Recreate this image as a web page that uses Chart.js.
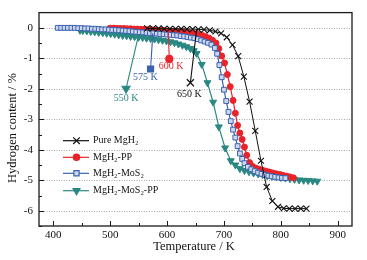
<!DOCTYPE html>
<html>
<head>
<meta charset="utf-8">
<script src="https://cdn.jsdelivr.net/npm/chart.js@4"></script>
<style>
  body { margin: 0; background: #fff; }
  #wrap { width: 367px; height: 260px; }
</style>
</head>
<body>
<div id="wrap"><canvas id="h2canvas" width="367" height="260"></canvas></div>
<script>
// Pure MgH2
let tempPure = [565,575,585,595,605,615,625,635,645,655,665,675,685,695,705,715,725,735,745,755,765,775,785,795,805,815,825,835,845];
let hPure = [-0.02,-0.02,-0.02,-0.03,-0.03,-0.03,-0.03,-0.04,-0.04,-0.05,-0.06,-0.08,-0.12,-0.18,-0.31,-0.56,-0.93,-1.6,-2.42,-3.38,-4.36,-5.22,-5.68,-5.87,-5.92,-5.93,-5.93,-5.93,-5.93];

// MgH2-PP
let tempPP = [500,506,512,518,524,530,536,542,548,554,560,566,572,578,584,590,596,602,608,614,620,626,632,638,644,650,656,662,668,674,680,686,691,696,701,706,711,716,720,724,728,732,736,740,745,750,756,762,768,774,780,786,792,798,804,810,816,822];
let hPP = [-0.01,-0.01,-0.02,-0.02,-0.02,-0.03,-0.03,-0.04,-0.04,-0.05,-0.05,-0.06,-0.06,-0.07,-0.08,-0.08,-0.09,-0.1,-0.11,-0.12,-0.13,-0.14,-0.15,-0.16,-0.18,-0.2,-0.22,-0.25,-0.29,-0.34,-0.41,-0.5,-0.68,-0.92,-1.15,-1.53,-1.93,-2.38,-2.8,-3.2,-3.45,-3.66,-3.91,-4.18,-4.42,-4.54,-4.6,-4.64,-4.67,-4.7,-4.73,-4.76,-4.79,-4.81,-4.84,-4.86,-4.89,-4.92];

// MgH2-MoS2
let tempMoS2 = [408,414,420,426,432,438,444,450,456,462,468,474,480,486,492,498,504,510,516,522,528,534,540,546,552,558,564,570,576,582,588,594,600,606,612,618,624,630,636,642,648,654,660,666,672,678,684,688,692,696,700,704,708,712,716,720,724,728,732,736,742,748,754,760,766,772,778,784,790,796,802,808];
let hMoS2 = [0,0,0,0,0,0,-0.01,-0.01,-0.02,-0.02,-0.03,-0.03,-0.04,-0.05,-0.05,-0.06,-0.07,-0.07,-0.08,-0.09,-0.1,-0.11,-0.12,-0.13,-0.14,-0.15,-0.16,-0.17,-0.18,-0.19,-0.2,-0.21,-0.22,-0.23,-0.24,-0.25,-0.27,-0.28,-0.3,-0.32,-0.34,-0.37,-0.41,-0.45,-0.49,-0.55,-0.66,-0.85,-1.22,-1.62,-2.03,-2.4,-2.76,-3.06,-3.34,-3.6,-3.88,-4.12,-4.3,-4.44,-4.56,-4.64,-4.7,-4.75,-4.79,-4.82,-4.85,-4.87,-4.89,-4.91,-4.92,-4.93];

// MgH2-MoS2-PP
let tempMoS2PP = [447,452,459,466,473,480,487,494,501,508,515,522,529,536,543,550,557,564,571,578,585,592,599,606,613,620,627,634,641,647,652,661,671,681,691,702,712,720,728,736,744,752,760,768,776,784,792,800,808,816,824,832,840,848,856,864];
let hMoS2PP = [-0.08,-0.09,-0.1,-0.12,-0.13,-0.15,-0.16,-0.18,-0.19,-0.21,-0.23,-0.25,-0.26,-0.28,-0.29,-0.31,-0.32,-0.34,-0.35,-0.37,-0.39,-0.41,-0.43,-0.46,-0.49,-0.53,-0.57,-0.62,-0.68,-0.75,-0.84,-1.2,-1.8,-2.44,-3.25,-3.94,-4.36,-4.5,-4.62,-4.68,-4.72,-4.76,-4.79,-4.82,-4.85,-4.87,-4.89,-4.91,-4.93,-4.95,-4.97,-4.99,-5.0,-5.01,-5.02,-5.03];

// tick labels
let xTicks = [400, 500, 600, 700, 800, 900];
let yTicks = [0, -1, -2, -3, -4, -5, -6];

// onset labels (arrow from curve to marker)
let onsetLabels = ['550 K', '575 K', '600 K', '650 K'];
let onsetFromT = [549, 575, 602, 652];
let onsetFromH = [-0.31, -0.18, -0.1, -0.05];
let onsetToT = [528, 571, 604, 641];
let onsetToH = [-1.99, -1.35, -1.02, -1.8];
let onsetTextT = [528, 562, 607, 639];
let onsetTextH = [-2.3, -1.64, -1.28, -2.19];

let seriesNames = ['Pure MgH\u2082', 'MgH\u2082-PP', 'MgH\u2082-MoS\u2082', 'MgH\u2082-MoS\u2082-PP'];

let xTitle = 'Temperature / K';
let yTitle = 'Hydrogen content / %';

const BLACK = '#111111';
const RED = '#e8232a';
const BLUE = '#3b62ae';
const TEAL = '#2a8883';
const FONT = '"Liberation Serif", "DejaVu Serif", serif';

function toPoints(xs, ys) {
    return xs.map(function(x, i) { return { x: x, y: ys[i] }; });
}

// marker drawing used for legend and onset arrows
function drawMarker(ctx, kind, x, y, size, color, fill) {
    ctx.save();
    ctx.strokeStyle = color;
    ctx.fillStyle = fill;
    ctx.lineWidth = 1.2;
    ctx.beginPath();
    if (kind === 'cross') {
        ctx.moveTo(x - size, y - size); ctx.lineTo(x + size, y + size);
        ctx.moveTo(x + size, y - size); ctx.lineTo(x - size, y + size);
        ctx.stroke();
    } else if (kind === 'circle') {
        ctx.arc(x, y, size, 0, Math.PI * 2);
        ctx.fill(); ctx.stroke();
    } else if (kind === 'rect') {
        ctx.rect(x - size, y - size, size * 2, size * 2);
        ctx.fill(); ctx.stroke();
    } else if (kind === 'tri') {
        ctx.moveTo(x - size * 0.87, y - size * 0.5);
        ctx.lineTo(x + size * 0.87, y - size * 0.5);
        ctx.lineTo(x, y + size);
        ctx.closePath();
        ctx.fill(); ctx.stroke();
    }
    ctx.restore();
}

const decorPlugin = {
    id: 'decor',
    beforeDatasetsDraw(chart) {
        const ctx = chart.ctx;
        const a = chart.chartArea;
        const ys = chart.scales.y;
        ctx.save();
        ctx.strokeStyle = '#a8a8a8';
        ctx.lineWidth = 1;
        ctx.setLineDash([1, 1.5]);
        yTicks.forEach(function(v) {
            const py = Math.round(ys.getPixelForValue(v)) + 0.5;
            ctx.beginPath();
            ctx.moveTo(a.left, py);
            ctx.lineTo(a.right, py);
            ctx.stroke();
        });
        ctx.restore();
    },
    afterDatasetsDraw(chart) {
        const ctx = chart.ctx;
        const a = chart.chartArea;
        const xs = chart.scales.x;
        const ys = chart.scales.y;
        ctx.save();

        // frame
        ctx.strokeStyle = '#1a1a1a';
        ctx.lineWidth = 1.3;
        ctx.strokeRect(a.left, a.top, a.right - a.left, a.bottom - a.top);

        // inward ticks, major and minor
        ctx.lineWidth = 1;
        ctx.beginPath();
        xTicks.forEach(function(t) {
            [t, t + 50].forEach(function(v, j) {
                if (v > 900) return;
                const px = Math.round(xs.getPixelForValue(v)) + 0.5;
                ctx.moveTo(px, a.bottom);
                ctx.lineTo(px, a.bottom - (j === 0 ? 5 : 3));
            });
        });
        yTicks.forEach(function(t) {
            [t, t - 0.5].forEach(function(v, j) {
                const py = Math.round(ys.getPixelForValue(v)) + 0.5;
                ctx.moveTo(a.left, py);
                ctx.lineTo(a.left + (j === 0 ? 5 : 3), py);
            });
        });
        ctx.stroke();

        // onset arrows
        const colors = [TEAL, BLUE, RED, BLACK];
        const kinds = ['tri', 'rect', 'circle', 'cross'];
        const sizes = [4.5, 3, 3.5, 3.5];
        ctx.font = '10px ' + FONT;
        ctx.textAlign = 'center';
        ctx.textBaseline = 'middle';
        for (let i = 0; i < onsetLabels.length; i++) {
            const x0 = xs.getPixelForValue(onsetFromT[i]);
            const y0 = ys.getPixelForValue(onsetFromH[i]);
            const x1 = xs.getPixelForValue(onsetToT[i]);
            const y1 = ys.getPixelForValue(onsetToH[i]);
            ctx.strokeStyle = colors[i];
            ctx.lineWidth = 1.1;
            ctx.beginPath();
            ctx.moveTo(x0, y0);
            ctx.lineTo(x1, y1);
            ctx.stroke();
            drawMarker(ctx, kinds[i], x1, y1, sizes[i], colors[i], colors[i]);
            ctx.fillStyle = colors[i];
            ctx.fillText(onsetLabels[i], xs.getPixelForValue(onsetTextT[i]), ys.getPixelForValue(onsetTextH[i]));
        }

        // legend
        const legY = [140.7, 157.3, 173.3, 190.7];
        const legColors = [BLACK, RED, BLUE, TEAL];
        const legKinds = ['cross', 'circle', 'rect', 'tri'];
        const legFill = [BLACK, RED, '#cdd8ee', TEAL];
        const legSize = [3.3, 3.2, 2.6, 4];
        ctx.textAlign = 'left';
        for (let i = 0; i < seriesNames.length; i++) {
            ctx.strokeStyle = legColors[i];
            ctx.lineWidth = 1.2;
            ctx.beginPath();
            ctx.moveTo(63, legY[i]);
            ctx.lineTo(89, legY[i]);
            ctx.stroke();
            drawMarker(ctx, legKinds[i], 76.5, legY[i], legSize[i], legColors[i], legFill[i]);
            ctx.fillStyle = BLACK;
            ctx.fillText(seriesNames[i], 93, legY[i]);
        }

        // axis titles
        ctx.fillStyle = BLACK;
        ctx.font = '12.5px ' + FONT;
        ctx.textAlign = 'center';
        ctx.fillText(xTitle, 194, 247);
        ctx.translate(13, 128);
        ctx.rotate(-Math.PI / 2);
        ctx.fillText(yTitle, 0, 0);
        ctx.restore();
    }
};

function setTicks(values) {
    return function(scale) {
        scale.ticks = values.map(function(v) { return { value: v }; });
    };
}

let ctx = document.getElementById('h2canvas').getContext('2d');
let h2Chart = new Chart(ctx, {
    type: 'line',
    data: {
        datasets: [
            {
                label: seriesNames[0],
                data: toPoints(tempPure, hPure),
                borderColor: BLACK, backgroundColor: BLACK, borderWidth: 1,
                pointStyle: 'crossRot', pointRadius: 4.2, pointBorderWidth: 1.1,
                order: 0
            },
            {
                label: seriesNames[1],
                data: toPoints(tempPP, hPP),
                borderColor: RED, backgroundColor: RED, borderWidth: 1.2,
                pointStyle: 'circle', pointRadius: 3, pointBorderWidth: 1,
                order: 2
            },
            {
                label: seriesNames[2],
                data: toPoints(tempMoS2, hMoS2),
                borderColor: BLUE, backgroundColor: '#cdd8ee', borderWidth: 1.2,
                pointStyle: 'rect', pointRadius: 3.4, pointBorderWidth: 1,
                order: 1
            },
            {
                label: seriesNames[3],
                data: toPoints(tempMoS2PP, hMoS2PP),
                borderColor: TEAL, backgroundColor: TEAL, borderWidth: 1.2,
                pointStyle: 'triangle', pointRotation: 180, pointRadius: 4, pointBorderWidth: 1,
                order: 3
            }
        ]
    },
    options: {
        responsive: false,
        animation: false,
        devicePixelRatio: 1,
        layout: { padding: { top: 8, right: 15, left: 0, bottom: 0 } },
        plugins: { legend: { display: false }, tooltip: { enabled: false } },
        elements: { line: { tension: 0 } },
        scales: {
            x: {
                type: 'linear', min: 375, max: 925,
                afterBuildTicks: setTicks(xTicks),
                afterFit: function(scale) { scale.height = 34; },
                ticks: { padding: 3, maxRotation: 0, autoSkip: false,
                         color: BLACK, font: { family: FONT, size: 11 } },
                grid: { display: false, drawTicks: false },
                border: { display: false }
            },
            y: {
                type: 'linear', min: -6.5, max: 0.5,
                afterBuildTicks: setTicks(yTicks),
                afterFit: function(scale) { scale.width = 39; },
                ticks: { padding: 6, autoSkip: false,
                         color: BLACK, font: { family: FONT, size: 11 } },
                grid: { display: false, drawTicks: false },
                border: { display: false }
            }
        }
    },
    plugins: [decorPlugin]
});
</script>
</body>
</html>
